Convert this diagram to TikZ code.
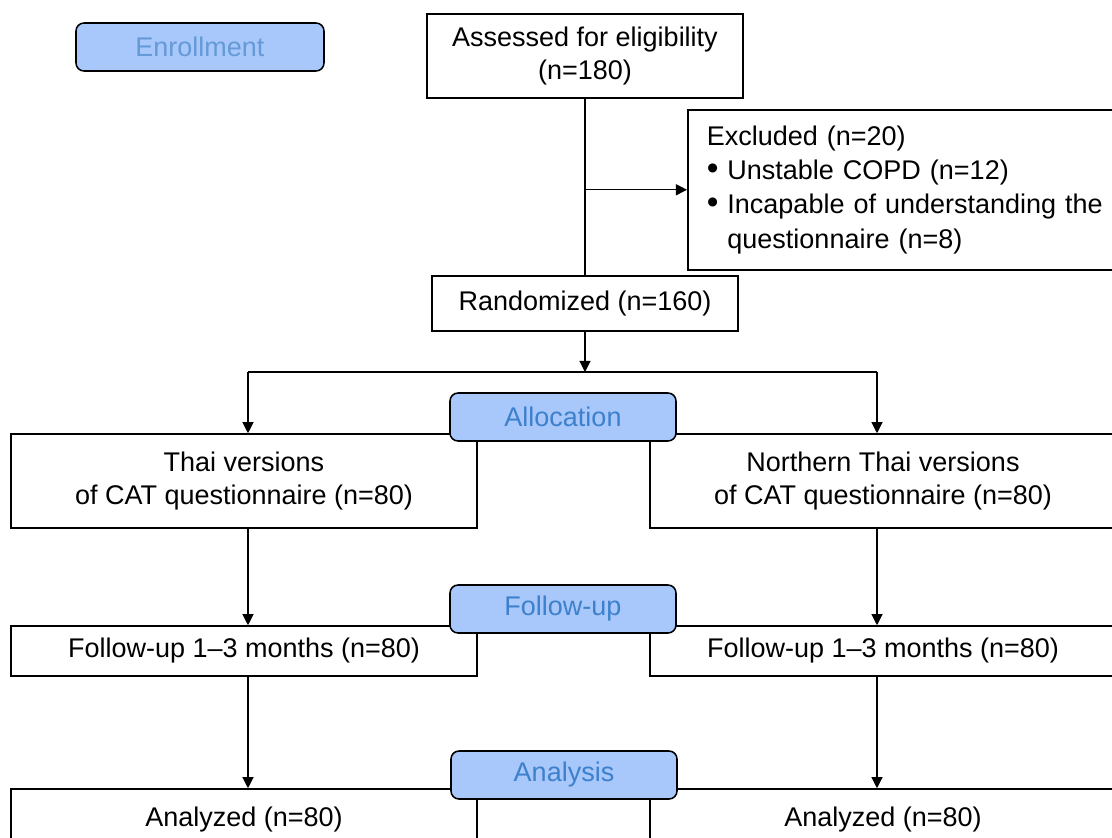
\documentclass[tikz,border=0pt]{standalone}
\usepackage{fontspec}
\setmainfont{Liberation Sans}
\usetikzlibrary{arrows.meta}
\definecolor{stagefill}{RGB}{168,199,250}
\definecolor{stagetext}{RGB}{61,128,204}
\newcommand\dotmark{{\fontsize{15}{15}\selectfont\textbullet}}

\begin{document}
\begin{tikzpicture}
[x=.45pt,y=-.45pt,line width=.7pt,
 every node/.style={font=\fontsize{12.15}{14.8}\selectfont,inner sep=0pt},
 box/.style={draw,align=center},
 stage/.style={draw,rounded corners=3.6pt,fill=stagefill,text=stagetext,
   minimum width=101.7pt,minimum height=21.6pt},
 flow/.style={line width=.5pt,-{Triangle[length=5pt,width=5pt]}},
 link/.style={line width=.5pt}]

\clip (0,0) rectangle (1112,838);

\node[box,minimum width=142.2pt,minimum height=37.8pt] (assess) at (585,56)
  {Assessed for eligibility\\(n=180)};
\node[box,anchor=north west,text width=185pt,inner xsep=8.55pt,
  minimum height=72pt,align=left] (excl) at (687,109)
  {Excluded (n=20)\\[.6pt]
   \dotmark\ Unstable COPD (n=12)\\[.6pt]
   \dotmark\ Incapable of understanding the\\[.6pt]
   \phantom{\dotmark\ }questionnaire (n=8)};
\node[box,minimum width=137.7pt,minimum height=24.75pt] (rand) at (585,303.5)
  {Randomized (n=160)};

\node[box,minimum width=209.7pt,minimum height=42.3pt] (thai) at (244,481)
  {Thai versions\\of CAT questionnaire (n=80)};
\node[box,minimum width=209.7pt,minimum height=42.3pt] (nthai) at (883,481)
  {Northern Thai versions\\of CAT questionnaire (n=80)};
\node[box,minimum width=209.7pt,minimum height=22.5pt] (fuA) at (244,651)
  {Follow-up 1--3 months (n=80)};
\node[box,minimum width=209.7pt,minimum height=22.5pt] (fuB) at (883,651)
  {Follow-up 1--3 months (n=80)};
\node[box,minimum width=209.7pt,minimum height=27.9pt] (anA) at (244,820)
  {Analyzed (n=80)};
\node[box,minimum width=209.7pt,minimum height=27.9pt] (anB) at (883,820)
  {Analyzed (n=80)};

\coordinate (split) at (585,372);
\coordinate (leftdrop) at (248,372);
\coordinate (rightdrop) at (877,372);

\draw[link] (assess) -- (rand); %main line
\draw[flow] (assess |- excl.west) -- (excl.west); %excluded
\draw[flow] (rand) -- (split);
\draw[link] (leftdrop) -- (rightdrop); %branch
\draw[flow] (leftdrop) -- (leftdrop |- thai.north);
\draw[flow] (rightdrop) -- (rightdrop |- nthai.north);
\draw[flow] (leftdrop |- thai.south) -- (leftdrop |- fuA.north);
\draw[flow] (rightdrop |- nthai.south) -- (rightdrop |- fuB.north);
\draw[flow] (leftdrop |- fuA.south) -- (leftdrop |- anA.north);
\draw[flow] (rightdrop |- fuB.south) -- (rightdrop |- anB.north);

% stage labels on top
\node[stage,text=stagetext!80!white,minimum width=111.6pt] (enrol) at (200,47) {Enrollment};
\node[stage] (alloc) at (563,417) {Allocation};
\node[stage] (follow) at (563,609) {Follow-up};
\node[stage] (analysis) at (564,775) {Analysis};

\end{tikzpicture}
\end{document}
